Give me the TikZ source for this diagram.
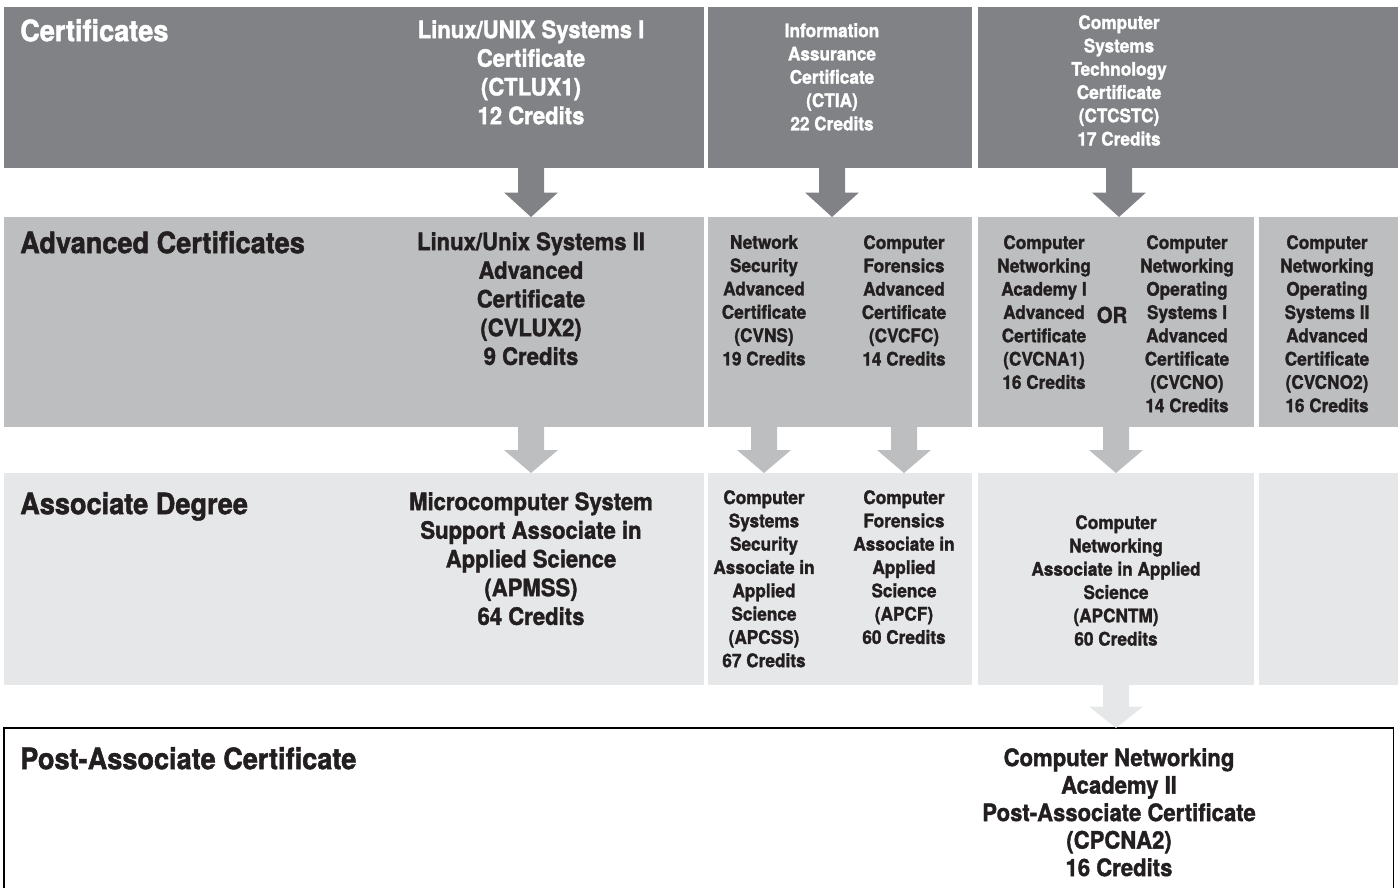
\documentclass[tikz,border=0pt]{standalone}
\usepackage{fontspec}
\newfontfamily\chartfont{texgyreheros}[Extension=.otf, UprightFont=*-bold, FakeStretch=0.92, FakeBold=1.5]
\usetikzlibrary{calc}
\definecolor{certgray}{RGB}{128,130,133}
\definecolor{advgray}{RGB}{188,190,192}
\definecolor{assocgray}{RGB}{230,231,232}
\definecolor{inkblack}{RGB}{35,31,32}

% block arrow: colour, start point, end point
\newcommand{\blockarrow}[3]{%
  \fill[#1] let \p1=#2, \p2=#3, \p3=($#2!0.5!#3$) in
    (\x1-13pt,\y1) -- (\x1+13pt,\y1) -- (\x1+13pt,\y3) -- (\x1+27pt,\y3)
    -- (\x1,\y2) -- (\x1-27pt,\y3) -- (\x1-13pt,\y3) -- cycle;}

\begin{document}
\begin{tikzpicture}[
    x=1pt, y=-1pt,
    font=\chartfont,
    block/.style={
		rectangle,
		anchor=north west,
		inner sep=0pt,
		outer sep=0pt
	},
	heading/.style={
		anchor=north west,
		inner sep=0pt,
		font=\chartfont\fontsize{29.5}{33}\selectfont
	},
	bigtext/.style={
		anchor=north,
		align=center,
		inner sep=0pt,
		font=\chartfont\fontsize{24}{28.7}\selectfont
	},
	smalltext/.style={
		anchor=north,
		align=center,
		inner sep=0pt,
		font=\chartfont\fontsize{18.7}{23.3}\selectfont
	}
  ]
  \useasboundingbox (0,0) rectangle (1398,887);

  % the rows
  \node [block, fill=certgray, minimum width=700pt, minimum height=161pt] (certa) at (3.5,7) {};
  \node [block, fill=certgray, minimum width=264pt, minimum height=161pt] (certb) at (708,7) {};
  \node [block, fill=certgray, minimum width=420pt, minimum height=161pt] (certc) at (978,7) {};

  \node [block, fill=advgray, minimum width=700pt, minimum height=210pt] (adva) at (3.5,217) {};
  \node [block, fill=advgray, minimum width=264pt, minimum height=210pt] (advb) at (708,217) {};
  \node [block, fill=advgray, minimum width=276pt, minimum height=210pt] (advc) at (978,217) {};
  \node [block, fill=advgray, minimum width=139pt, minimum height=210pt] (advd) at (1259,217) {};

  \node [block, fill=assocgray, minimum width=700pt, minimum height=212pt] (assa) at (3.5,473) {};
  \node [block, fill=assocgray, minimum width=264pt, minimum height=212pt] (assb) at (708,473) {};
  \node [block, fill=assocgray, minimum width=276pt, minimum height=212pt] (assc) at (978,473) {};
  \node [block, fill=assocgray, minimum width=139pt, minimum height=212pt] (assd) at (1259,473) {};

  \node [block, draw=black, line width=1.5pt, minimum width=1389.5pt, minimum height=170pt] (postbox) at (4,728) {};

  % headings
  \node [heading, text=white] (hcert) at (20,19) {Certificates};
  \node [heading, text=inkblack] (hadv) at (20,231) {Advanced Certificates};
  \node [heading, text=inkblack] (hassoc) at (20,492) {Associate Degree};
  \node [heading, text=inkblack] (hpost) at (20,747) {Post-Associate Certificate};

  % certificates
  \node [bigtext, text=white] (ctlux) at (531,20)
    {Linux/UNIX Systems I\\Certificate\\(CTLUX1)\\12 Credits};
  \node [smalltext, text=white] (ctia) at (832,23)
    {Information\\Assurance\\Certificate\\(CTIA)\\22 Credits};
  \node [smalltext, text=white] (ctcstc) at (1119,15)
    {Computer\\Systems\\Technology\\Certificate\\(CTCSTC)\\17 Credits};

  % advanced certificates
  \node [bigtext, text=inkblack] (cvlux) at (531,232)
    {Linux/Unix Systems II\\Advanced\\Certificate\\(CVLUX2)\\9 Credits};
  \node [smalltext, text=inkblack] (cvns) at (764,235)
    {Network\\Security\\Advanced\\Certificate\\(CVNS)\\19 Credits};
  \node [smalltext, text=inkblack] (cvcfc) at (904,235)
    {Computer\\Forensics\\Advanced\\Certificate\\(CVCFC)\\14 Credits};
  \node [smalltext, text=inkblack] (cvcna) at (1044,235)
    {Computer\\Networking\\Academy I\\Advanced\\Certificate\\(CVCNA1)\\16 Credits};
  \node [text=inkblack, inner sep=0pt, font=\chartfont\fontsize{22}{26}\selectfont] (orword) at (1112,315) {OR};
  \node [smalltext, text=inkblack] (cvcno) at (1187,235)
    {Computer\\Networking\\Operating\\Systems I\\Advanced\\Certificate\\(CVCNO)\\14 Credits};
  \node [smalltext, text=inkblack] (cvcnotwo) at (1327,235)
    {Computer\\Networking\\Operating\\Systems II\\Advanced\\Certificate\\(CVCNO2)\\16 Credits};

  % associate degrees
  \node [bigtext, text=inkblack] (apmss) at (531,492)
    {Microcomputer System\\Support Associate in\\Applied Science\\(APMSS)\\64 Credits};
  \node [smalltext, text=inkblack] (apcss) at (764,490)
    {Computer\\Systems\\Security\\Associate in\\Applied\\Science\\(APCSS)\\67 Credits};
  \node [smalltext, text=inkblack] (apcf) at (904,490)
    {Computer\\Forensics\\Associate in\\Applied\\Science\\(APCF)\\60 Credits};
  \node [smalltext, text=inkblack] (apcntm) at (1116,515)
    {Computer\\Networking\\Associate in Applied\\Science\\(APCNTM)\\60 Credits};

  % post-associate
  \node [bigtext, text=inkblack, font=\chartfont\fontsize{24}{27.5}\selectfont] (cpcna) at (1119,748)
    {Computer Networking\\Academy II\\Post-Associate Certificate\\(CPCNA2)\\16 Credits};

  % arrows
  \blockarrow{certgray}{(ctlux |- certa.south)}{(ctlux |- adva.north)}
  \blockarrow{certgray}{(ctia |- certb.south)}{(ctia |- advb.north)}
  \blockarrow{certgray}{(ctcstc |- certc.south)}{(ctcstc |- advc.north)}
  \blockarrow{advgray}{(cvlux |- adva.south)}{(cvlux |- assa.north)}
  \blockarrow{advgray}{(cvns |- advb.south)}{(cvns |- assb.north)}
  \blockarrow{advgray}{(cvcfc |- advb.south)}{(cvcfc |- assb.north)}
  \blockarrow{advgray}{(apcntm |- advc.south)}{(apcntm |- assc.north)}
  \blockarrow{assocgray}{(apcntm |- assc.south)}{(apcntm |- postbox.north)}

\end{tikzpicture}
\end{document}
